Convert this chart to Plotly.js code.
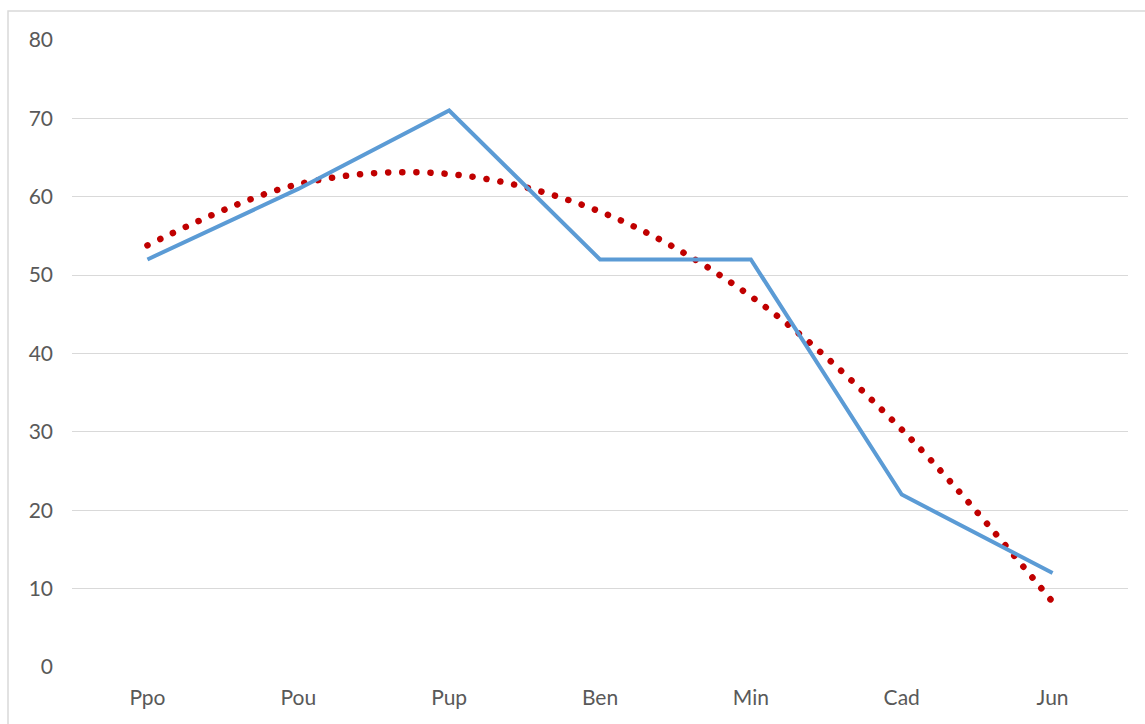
<!DOCTYPE html>
<html>
<head>
<meta charset="utf-8">
<script src="https://cdn.plot.ly/plotly-3.0.1.min.js"></script>
<style>
html,body{margin:0;padding:0;background:#fff;}
#chart{width:1145px;height:724px;}
.trend .js-line{stroke-linecap:round;}
</style>
</head>
<body>
<div id="chart"></div>
<script>
var categories = ["Ppo", "Pou", "Pup", "Ben", "Min", "Cad", "Jun"];
var seriesValues = [52, 61, 71, 52, 52, 22, 12];
var trendValues = [53.8, 61.6, 62.9, 58.1, 47.3, 30.3, 8.3];
var yTickVals = [0, 10, 20, 30, 40, 50, 60, 70, 80];

var traces = [
  {
    x: categories, y: trendValues, type: "scatter", mode: "lines",
    line: {color: "#C00000", width: 6.5, dash: "0.1px,14px", shape: "spline", smoothing: 1},
    hoverinfo: "skip", showlegend: false
  },
  {
    x: categories, y: seriesValues, type: "scatter", mode: "lines",
    line: {color: "#5B9BD5", width: 4},
    hoverinfo: "skip", showlegend: false
  }
];

var layout = {
  width: 1145, height: 724,
  margin: {l: 72, r: 17, t: 40, b: 57},
  paper_bgcolor: "#ffffff", plot_bgcolor: "#ffffff",
  font: {family: "Lato, 'Open Sans', sans-serif", size: 21, color: "#595959"},
  xaxis: {
    type: "category", range: [-0.5, 6.5], showgrid: false, zeroline: false, showline: false,
    ticks: "", ticklabelstandoff: 16, fixedrange: true
  },
  yaxis: {
    range: [0, 80], tickvals: yTickVals, showgrid: true, gridcolor: "#D9D9D9", gridwidth: 1,
    zeroline: false, showline: false, ticks: "", ticklabelstandoff: 18, fixedrange: true
  },
  shapes: [{
    type: "rect", xref: "paper", yref: "paper",
    x0: -0.0606, x1: 1.2, y0: -0.3, y1: 1.0463,
    line: {color: "#D9D9D9", width: 1.5}, layer: "below"
  }],
  showlegend: false
};

Plotly.newPlot("chart", traces, layout, {displayModeBar: false, staticPlot: true}).then(function(){
  var paths = document.querySelectorAll(".scatterlayer .trace");
  if (paths.length) paths[0].classList.add("trend");
});
</script>
</body>
</html>
